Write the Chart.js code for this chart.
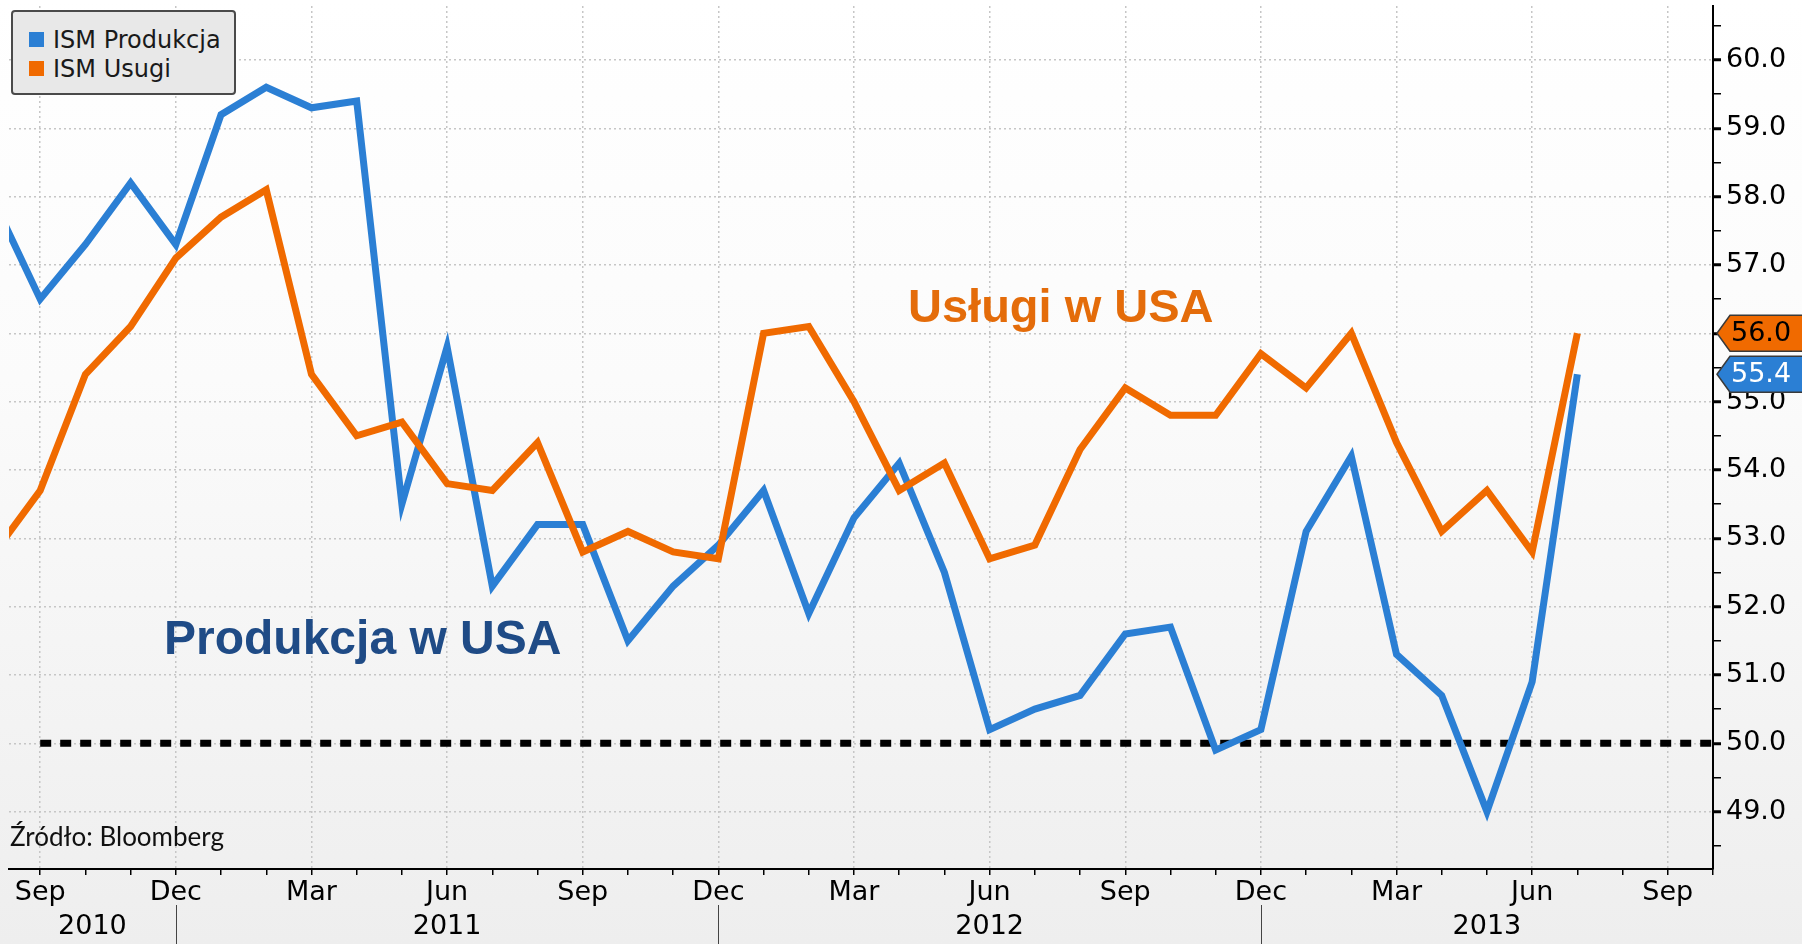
<!DOCTYPE html>
<html>
<head>
<meta charset="utf-8">
<script src="https://cdn.jsdelivr.net/npm/chart.js@4.4.0/dist/chart.umd.min.js"></script>
<style>
    html, body { margin: 0; padding: 0; }
    body {
        width: 1802px; height: 944px; overflow: hidden; position: relative;
        background: linear-gradient(to bottom, #ffffff 0%, #fbfbfb 40%, #eeeeee 100%);
        font-family: 'DejaVu Sans', sans-serif;
    }
    #chart { position: absolute; left: 0; top: 0; }
    #legend {
        position: absolute; left: 11px; top: 10px; width: 221px; height: 81px;
        background: #e8e8e8; border: 2px solid #4a4a4a; border-radius: 4px;
    }
    #legend .item { position: absolute; left: 16px; font-size: 24px; line-height: 28px; color: #1a1a1a; white-space: nowrap; }
    #legend .sw { display: inline-block; width: 15px; height: 15px; margin-right: 9px; vertical-align: 1px; }
    .note { position: absolute; font-family: 'Liberation Sans', Arial, sans-serif; font-weight: bold; font-size: 47px; line-height: 47px; white-space: nowrap; }
    #source { position: absolute; left: 10px; top: 823px; font-family: Lato, 'Open Sans', sans-serif; font-size: 26px; line-height: 26px; color: #111; }
</style>
</head>
<body>
<canvas id="chart" width="1802" height="944"></canvas>
<div id="legend"></div>
<div class="note" style="left: 908px; top: 282px; color: #e46c0a;">Usługi w USA</div>
<div class="note" style="left: 164px; top: 614px; color: #1f4b86; font-size: 48px;">Produkcja w USA</div>
<div id="source">Źródło: Bloomberg</div>

<script>
// months, index 0 = Aug 2010
const MONTH_NAMES = ['Jan', 'Feb', 'Mar', 'Apr', 'May', 'Jun', 'Jul', 'Aug', 'Sep', 'Oct', 'Nov', 'Dec'];
const QUARTER_MONTHS = [2, 5, 8, 11];
const FIRST_MONTH = 7;
const YEARS = ['2010', '2011', '2012', '2013'];

const SERIES_NAMES = ['ISM Produkcja', 'ISM Usugi'];
const SERIES_COLORS = ['#2b7fd4', '#f06a00'];

// Aug 2010 .. Jul 2013
const produkcja = [
    57.9, 56.5, 57.3, 58.2, 57.3,
    59.2, 59.6, 59.3, 59.4, 53.5, 55.8, 52.3, 53.2, 53.2, 51.5, 52.3, 52.9,
    53.7, 51.9, 53.3, 54.1, 52.5, 50.2, 50.5, 50.7, 51.6, 51.7, 49.9, 50.2,
    53.1, 54.2, 51.3, 50.7, 49.0, 50.9, 55.4
];
const uslugi = [
    52.8, 53.7, 55.4, 56.1, 57.1,
    57.7, 58.1, 55.4, 54.5, 54.7, 53.8, 53.7, 54.4, 52.8, 53.1, 52.8, 52.7,
    56.0, 56.1, 55.0, 53.7, 54.1, 52.7, 52.9, 54.3, 55.2, 54.8, 54.8, 55.7,
    55.2, 56.0, 54.4, 53.1, 53.7, 52.8, 56.0
];

const THRESHOLD = 50;
const THRESHOLD_FROM = 1;   // Sep 2010
const X_MIN = 0.31, X_MAX = 38;
const Y_MIN = 48.16, Y_MAX = 60.79;

const FONT = "'DejaVu Sans', sans-serif";
const GRID = '#c6c6c6';

const toPoints = (arr) => arr.map((v, i) => ({ x: i, y: v }));
const isWhole = (v) => Math.abs(v - Math.round(v)) < 1e-6;
const monthOf = (i) => ((FIRST_MONTH + Math.round(i)) % 12 + 12) % 12;
const isQuarter = (i) => isWhole(i) && QUARTER_MONTHS.includes(monthOf(i));

// legend
const legend = document.getElementById('legend');
SERIES_NAMES.forEach((name, k) => {
    const el = document.createElement('div');
    el.className = 'item';
    el.style.top = (14 + k * 29) + 'px';
    el.innerHTML = '<span class="sw" style="background:' + SERIES_COLORS[k] + '"></span>' + name;
    legend.appendChild(el);
});

// year row under the month labels
const yearRow = {
    id: 'yearRow',
    afterDraw(chart) {
        const { ctx, chartArea, scales: { x } } = chart;
        const decs = YEARS.slice(0, -1).map((_, k) => 11 - FIRST_MONTH + 12 * k);
        const edges = [X_MIN, ...decs, X_MAX];
        ctx.save();
        ctx.font = '27px ' + FONT;
        ctx.fillStyle = '#000';
        ctx.textAlign = 'center';
        ctx.textBaseline = 'middle';
        YEARS.forEach((y, k) => {
            const cx = (x.getPixelForValue(edges[k]) + x.getPixelForValue(edges[k + 1])) / 2;
            ctx.fillText(y, cx, chartArea.bottom + 58);
        });
        ctx.strokeStyle = '#444';
        ctx.lineWidth = 1;
        decs.forEach(d => {
            const px = Math.round(x.getPixelForValue(d)) + 0.5;
            ctx.beginPath();
            ctx.moveTo(px, chartArea.bottom + 36);
            ctx.lineTo(px, chart.height);
            ctx.stroke();
        });
        ctx.restore();
    }
};

// last value tags on the right axis
const lastTags = {
    id: 'lastTags',
    afterDraw(chart) {
        const { ctx, chartArea, scales: { y } } = chart;
        const tags = [
            { v: uslugi[uslugi.length - 1], fill: SERIES_COLORS[1], text: '#000' },
            { v: produkcja[produkcja.length - 1], fill: SERIES_COLORS[0], text: '#fff' }
        ];
        ctx.save();
        ctx.font = '27px ' + FONT;
        tags.forEach(t => {
            const x0 = chartArea.right + 4;
            const x1 = chart.width + 4;
            const yc = y.getPixelForValue(t.v);
            const h = 36;
            ctx.beginPath();
            ctx.moveTo(x0, yc);
            ctx.lineTo(x0 + 13, yc - h / 2);
            ctx.lineTo(x1, yc - h / 2);
            ctx.lineTo(x1, yc + h / 2);
            ctx.lineTo(x0 + 13, yc + h / 2);
            ctx.closePath();
            ctx.fillStyle = t.fill;
            ctx.fill();
            ctx.strokeStyle = '#3a3a3a';
            ctx.lineWidth = 1.5;
            ctx.stroke();
            ctx.fillStyle = t.text;
            ctx.textAlign = 'left';
            ctx.textBaseline = 'middle';
            ctx.fillText(t.v.toFixed(1), x0 + 14, yc + 1);
        });
        ctx.restore();
    }
};

new Chart(document.getElementById('chart').getContext('2d'), {
    type: 'line',
    data: {
        datasets: [
            {
                label: SERIES_NAMES[1],
                data: toPoints(uslugi),
                borderColor: SERIES_COLORS[1],
                borderWidth: 7,
                pointRadius: 0,
                tension: 0,
                clip: 0,
                order: 0
            },
            {
                label: SERIES_NAMES[0],
                data: toPoints(produkcja),
                borderColor: SERIES_COLORS[0],
                borderWidth: 7,
                pointRadius: 0,
                tension: 0,
                clip: 0,
                order: 1
            },
            {
                label: '50',
                data: [{ x: THRESHOLD_FROM, y: THRESHOLD }, { x: X_MAX, y: THRESHOLD }],
                borderColor: '#000',
                borderWidth: 7,
                borderDash: [11, 9],
                pointRadius: 0,
                clip: 0,
                order: 2
            }
        ]
    },
    options: {
        responsive: false,
        animation: false,
        devicePixelRatio: 1,
        events: [],
        layout: { padding: { left: 9, top: 6, right: 0, bottom: 0 } },
        plugins: {
            legend: { display: false },
            tooltip: { enabled: false }
        },
        scales: {
            x: {
                type: 'linear',
                min: X_MIN,
                max: X_MAX,
                afterFit: (scale) => {
                    scale.height = 75;
                    scale.paddingLeft = 0;
                    scale.paddingRight = 0;
                },
                border: { display: true, color: '#000', width: 2, dash: [2, 3] },
                grid: {
                    color: (c) => isQuarter(c.tick.value) ? GRID : 'rgba(0,0,0,0)',
                    lineWidth: 1.5,
                    tickColor: '#000',
                    tickLength: 6,
                    tickWidth: 1.5
                },
                ticks: {
                    stepSize: 1,
                    includeBounds: false,
                    autoSkip: false,
                    maxRotation: 0,
                    minRotation: 0,
                    padding: 2,
                    color: '#000',
                    font: { family: FONT, size: 27 },
                    callback: (v) => isQuarter(v) ? MONTH_NAMES[monthOf(v)] : ''
                }
            },
            y: {
                type: 'linear',
                position: 'right',
                min: Y_MIN,
                max: Y_MAX,
                afterFit: (scale) => {
                    scale.width = 89;
                    scale.paddingTop = 0;
                    scale.paddingBottom = 0;
                },
                border: { display: true, color: '#000', width: 2, dash: [2, 3] },
                grid: {
                    color: (c) => isWhole(c.tick.value) ? GRID : 'rgba(0,0,0,0)',
                    lineWidth: 1.5,
                    tickColor: '#000',
                    tickLength: 8,
                    tickWidth: (c) => isWhole(c.tick.value) ? 3 : 1.5
                },
                ticks: {
                    stepSize: 0.5,
                    includeBounds: false,
                    autoSkip: false,
                    padding: 5,
                    color: '#000',
                    font: { family: FONT, size: 27 },
                    callback: (v) => isWhole(v) ? v.toFixed(1) : ''
                }
            }
        }
    },
    plugins: [yearRow, lastTags]
});
</script>
</body>
</html>
